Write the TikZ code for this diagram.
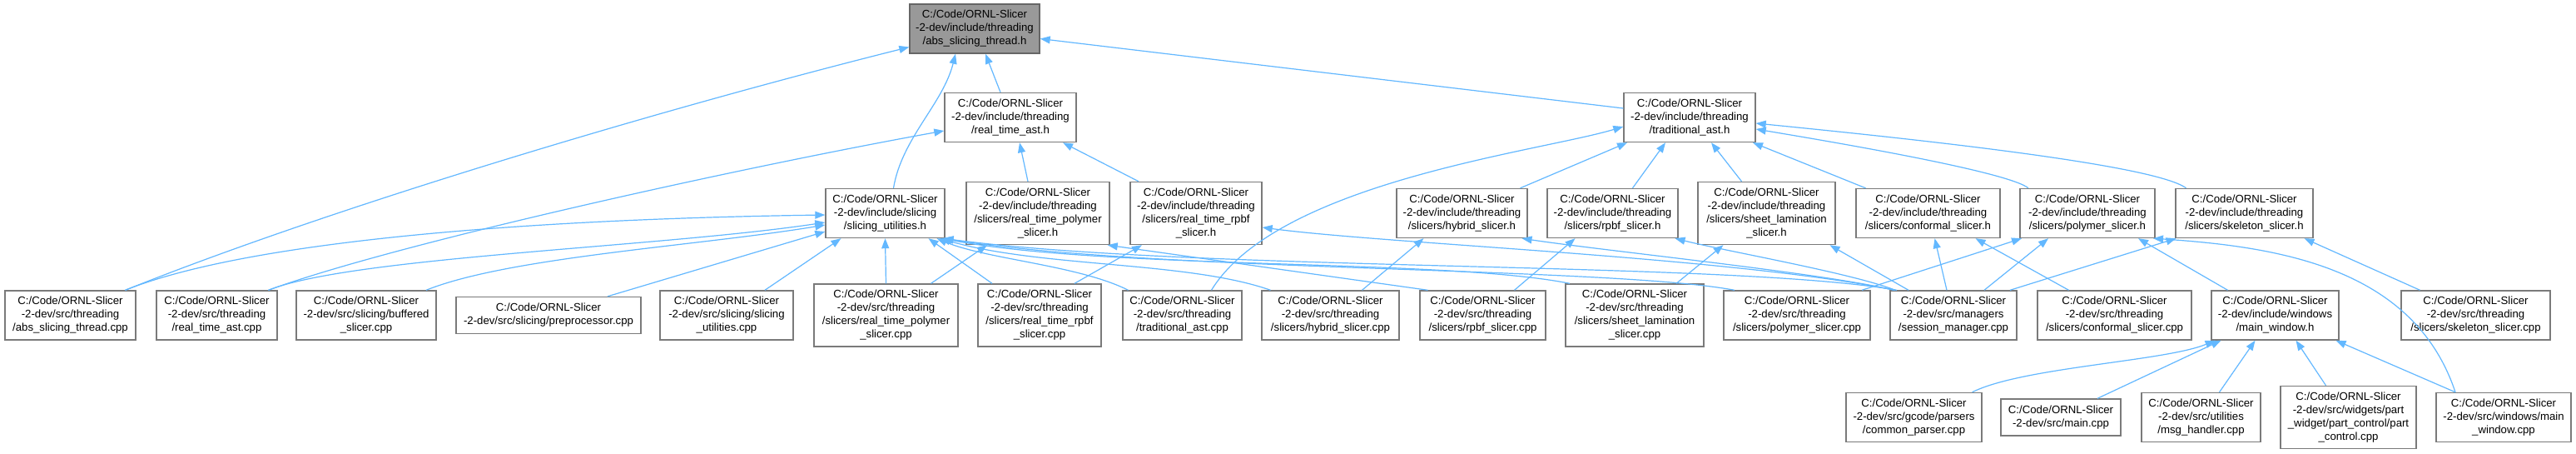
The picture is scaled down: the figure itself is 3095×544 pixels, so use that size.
\documentclass[tikz,border=0pt]{standalone}
\usepackage{fontspec}
\setmainfont{Liberation Sans}
\usetikzlibrary{arrows.meta}
\definecolor{edgeblue}{HTML}{63B8FF}
\definecolor{nodeborder}{HTML}{7A7A7A}
\definecolor{rootfill}{HTML}{999999}
\begin{document}
\begin{tikzpicture}[x=1pt,y=-1pt,
  hdr/.style={draw=nodeborder, fill=white, line width=1.4pt, inner sep=0pt, align=center,
              font=\fontsize{13.2}{16}\selectfont},
  dep/.style={draw=edgeblue, line width=1.2pt, -{Triangle[length=12pt,width=9pt]}}]
\useasboundingbox (0,0) rectangle (3095,544);
\fill[white] (0,0) rectangle (3095,544);

% row 0
\node[hdr, fill=rootfill, draw=gray!80!black, minimum width=156, minimum height=59] (A) at (1171,34.5) {C:/Code/ORNL-Slicer\\-2-dev/include/threading\\/abs\_slicing\_thread.h};
% row 1
\node[hdr, minimum width=158, minimum height=59] (RTA) at (1214,141) {C:/Code/ORNL-Slicer\\-2-dev/include/threading\\/real\_time\_ast.h};
\node[hdr, minimum width=158, minimum height=59] (TA) at (2030,141) {C:/Code/ORNL-Slicer\\-2-dev/include/threading\\/traditional\_ast.h};
% row 2
\node[hdr, minimum width=143, minimum height=59] (SU) at (1063.5,256) {C:/Code/ORNL-Slicer\\-2-dev/include/slicing\\/slicing\_utilities.h};
\node[hdr, minimum width=172, minimum height=75] (RTPh) at (1247,256) {C:/Code/ORNL-Slicer\\-2-dev/include/threading\\/slicers/real\_time\_polymer\\\_slicer.h};
\node[hdr, minimum width=158, minimum height=75] (RTRh) at (1437,256) {C:/Code/ORNL-Slicer\\-2-dev/include/threading\\/slicers/real\_time\_rpbf\\\_slicer.h};
\node[hdr, minimum width=157, minimum height=59] (HYh) at (1756.5,256) {C:/Code/ORNL-Slicer\\-2-dev/include/threading\\/slicers/hybrid\_slicer.h};
\node[hdr, minimum width=157, minimum height=59] (RPh) at (1937.5,256) {C:/Code/ORNL-Slicer\\-2-dev/include/threading\\/slicers/rpbf\_slicer.h};
\node[hdr, minimum width=165, minimum height=75] (SLh) at (2122.5,256) {C:/Code/ORNL-Slicer\\-2-dev/include/threading\\/slicers/sheet\_lamination\\\_slicer.h};
\node[hdr, minimum width=173, minimum height=59] (COh) at (2316.5,256) {C:/Code/ORNL-Slicer\\-2-dev/include/threading\\/slicers/conformal\_slicer.h};
\node[hdr, minimum width=162, minimum height=59] (POh) at (2508,256) {C:/Code/ORNL-Slicer\\-2-dev/include/threading\\/slicers/polymer\_slicer.h};
\node[hdr, minimum width=165, minimum height=59] (SKh) at (2696.5,256) {C:/Code/ORNL-Slicer\\-2-dev/include/threading\\/slicers/skeleton\_slicer.h};
% row 3
\node[hdr, minimum width=157, minimum height=59] (ASTc) at (84.5,378.5) {C:/Code/ORNL-Slicer\\-2-dev/src/threading\\/abs\_slicing\_thread.cpp};
\node[hdr, minimum width=145, minimum height=59] (RTAc) at (260.5,378.5) {C:/Code/ORNL-Slicer\\-2-dev/src/threading\\/real\_time\_ast.cpp};
\node[hdr, minimum width=168, minimum height=59] (BUc) at (440,378.5) {C:/Code/ORNL-Slicer\\-2-dev/src/slicing/buffered\\\_slicer.cpp};
\node[hdr, minimum width=222, minimum height=44] (PPc) at (659,378.5) {C:/Code/ORNL-Slicer\\-2-dev/src/slicing/preprocessor.cpp};
\node[hdr, minimum width=160, minimum height=59] (SUc) at (873,378.5) {C:/Code/ORNL-Slicer\\-2-dev/src/slicing/slicing\\\_utilities.cpp};
\node[hdr, minimum width=173, minimum height=75] (RTPc) at (1064.5,378.5) {C:/Code/ORNL-Slicer\\-2-dev/src/threading\\/slicers/real\_time\_polymer\\\_slicer.cpp};
\node[hdr, minimum width=148, minimum height=75] (RTRc) at (1249,378.5) {C:/Code/ORNL-Slicer\\-2-dev/src/threading\\/slicers/real\_time\_rpbf\\\_slicer.cpp};
\node[hdr, minimum width=143, minimum height=59] (TAc) at (1420.5,378.5) {C:/Code/ORNL-Slicer\\-2-dev/src/threading\\/traditional\_ast.cpp};
\node[hdr, minimum width=165, minimum height=59] (HYc) at (1598.5,378.5) {C:/Code/ORNL-Slicer\\-2-dev/src/threading\\/slicers/hybrid\_slicer.cpp};
\node[hdr, minimum width=151, minimum height=59] (RPc) at (1781.5,378.5) {C:/Code/ORNL-Slicer\\-2-dev/src/threading\\/slicers/rpbf\_slicer.cpp};
\node[hdr, minimum width=166, minimum height=75] (SLc) at (1964,378.5) {C:/Code/ORNL-Slicer\\-2-dev/src/threading\\/slicers/sheet\_lamination\\\_slicer.cpp};
\node[hdr, minimum width=176, minimum height=59] (POc) at (2159,378.5) {C:/Code/ORNL-Slicer\\-2-dev/src/threading\\/slicers/polymer\_slicer.cpp};
\node[hdr, minimum width=152, minimum height=59] (SMc) at (2347,378.5) {C:/Code/ORNL-Slicer\\-2-dev/src/managers\\/session\_manager.cpp};
\node[hdr, minimum width=185, minimum height=59] (COc) at (2540.5,378.5) {C:/Code/ORNL-Slicer\\-2-dev/src/threading\\/slicers/conformal\_slicer.cpp};
\node[hdr, minimum width=153, minimum height=59] (MWh) at (2733.5,378.5) {C:/Code/ORNL-Slicer\\-2-dev/include/windows\\/main\_window.h};
\node[hdr, minimum width=179, minimum height=59] (SKc) at (2974.5,378.5) {C:/Code/ORNL-Slicer\\-2-dev/src/threading\\/slicers/skeleton\_slicer.cpp};
% row 4
\node[hdr, minimum width=163, minimum height=59] (CPc) at (2299.5,501) {C:/Code/ORNL-Slicer\\-2-dev/src/gcode/parsers\\/common\_parser.cpp};
\node[hdr, minimum width=144, minimum height=44] (MAc) at (2476,501) {C:/Code/ORNL-Slicer\\-2-dev/src/main.cpp};
\node[hdr, minimum width=143, minimum height=59] (MHc) at (2644.5,501) {C:/Code/ORNL-Slicer\\-2-dev/src/utilities\\/msg\_handler.cpp};
\node[hdr, minimum width=163, minimum height=75] (PCc) at (2821.5,501) {C:/Code/ORNL-Slicer\\-2-dev/src/widgets/part\\\_widget/part\_control/part\\\_control.cpp};
\node[hdr, minimum width=162, minimum height=59] (MWc) at (3008,501) {C:/Code/ORNL-Slicer\\-2-dev/src/windows/main\\\_window.cpp};

% edges into abs_slicing_thread.h
\draw[dep] ([xshift=66]ASTc.north) .. controls +(250,-100) and +(-300,75) .. ([yshift=-22]A.west);
\draw[dep] ([xshift=10]SU.north) .. controls +(10,-60) and +(-15,60) .. ([xshift=-23]A.south);
\draw[dep] ([xshift=-12]RTA.north) -- ([xshift=13]A.south);
\draw[dep] ([yshift=11]TA.west) -- ([yshift=-12]A.east);
% edges into real_time_ast.h
\draw[dep] ([xshift=62]RTAc.north) .. controls +(150,-55) and +(-250,45) .. ([yshift=-16]RTA.west);
\draw[dep] ([xshift=-12]RTPh.north) -- ([xshift=11]RTA.south);
\draw[dep] ([xshift=-69]RTRh.north) -- ([xshift=63]RTA.south);
% edges into traditional_ast.h
\draw[dep] ([xshift=35]TAc.north) .. controls +(80,-130) and +(-100,30) .. ([yshift=-11]TA.west);
\draw[dep] ([xshift=70]HYh.north) -- ([xshift=-75]TA.south);
\draw[dep] ([xshift=24]RPh.north) -- ([xshift=-29]TA.south);
\draw[dep] ([xshift=-30]SLh.north) -- ([xshift=26]TA.south);
\draw[dep] ([xshift=-75]COh.north) -- ([xshift=76]TA.south);
\draw[dep] ([xshift=-71]POh.north) .. controls +(-25,-20) and +(90,15) .. ([yshift=-14]TA.east);
\draw[dep] ([xshift=-70]SKh.north) .. controls +(-40,-30) and +(150,15) .. ([yshift=-7]TA.east);
% edges into slicing_utilities.h
\draw[dep] ([xshift=66]ASTc.north) .. controls +(150,-60) and +(-350,5) .. ([yshift=-2]SU.west);
\draw[dep] ([xshift=62]RTAc.north) .. controls +(100,-40) and +(-200,30) .. ([yshift=-11]SU.west);
\draw[dep] ([xshift=72]BUc.north) .. controls +(100,-40) and +(-150,25) .. ([yshift=-14]SU.west);
\draw[dep] ([xshift=71]PPc.north) -- ([yshift=-22]SU.west);
\draw[dep] ([xshift=46]SUc.north) -- ([xshift=-53]SU.south);
\draw[dep] (RTPc.north) -- (SU.south);
\draw[dep] ([xshift=-57]RTRc.north) -- ([xshift=52]SU.south);
\draw[dep] ([xshift=-65]TAc.north) .. controls +(-60,-30) and +(60,25) .. ([xshift=62]SU.south);
\draw[dep] ([xshift=-72]HYc.north) .. controls +(-100,-35) and +(120,35) .. ([xshift=66]SU.south);
\draw[dep] ([xshift=-78]SLc.north) .. controls +(-150,-30) and +(200,38) .. ([xshift=68]SU.south);
\draw[dep] ([xshift=-75]POc.north) .. controls +(-150,-28) and +(250,40) .. ([xshift=70]SU.south);
\draw[dep] ([xshift=-68]SMc.north) .. controls +(-200,-35) and +(300,40) .. ([xshift=70]SU.south);
% slicer headers
\draw[dep] ([xshift=54]RTPc.north) -- ([xshift=-61]RTPh.south);
\draw[dep] ([xshift=-66]RPc.north) -- ([xshift=-3]RTPh.south east);
\draw[dep] ([xshift=42]RTRc.north) -- ([xshift=-65]RTRh.south);
\draw[dep] ([xshift=-70]SMc.north) .. controls +(-200,-40) and +(150,20) .. ([yshift=-17]RTRh.east);
\draw[dep] ([xshift=38]HYc.north) -- ([xshift=-46]HYh.south);
\draw[dep] ([xshift=-72]SMc.north) .. controls +(-80,-20) and +(100,15) .. ([xshift=72]HYh.south);
\draw[dep] ([xshift=38]RPc.north) -- ([xshift=-45]RPh.south);
\draw[dep] ([xshift=-70]SMc.north) .. controls +(-50,-20) and +(60,15) .. ([xshift=75]RPh.south);
\draw[dep] ([xshift=50]SLc.north) -- ([xshift=-52]SLh.south);
\draw[dep] ([xshift=-54]SMc.north) -- ([xshift=76]SLh.south);
\draw[dep] ([xshift=-8]SMc.north) -- ([xshift=8]COh.south);
\draw[dep] ([xshift=-55]COc.north) -- ([xshift=57]COh.south);
\draw[dep] ([xshift=78]POc.north) -- ([xshift=-79]POh.south);
\draw[dep] ([xshift=37]SMc.north) -- ([xshift=-47]POh.south);
\draw[dep] ([xshift=-57]MWh.north) -- ([xshift=61]POh.south);
\draw[dep] ([xshift=-58]MWc.north) .. controls +(-50,-150) and +(150,10) .. ([xshift=79]POh.south);
\draw[dep] ([xshift=68]SMc.north) -- ([xshift=-82]SKh.south);
\draw[dep] ([xshift=-67]SKc.north) -- ([xshift=72]SKh.south);
% main_window.h
\draw[dep] ([xshift=70]CPc.north) .. controls +(60,-30) and +(-60,25) .. ([xshift=-72]MWh.south);
\draw[dep] ([xshift=44]MAc.north) -- ([xshift=-65]MWh.south);
\draw[dep] ([xshift=22]MHc.north) -- ([xshift=-24]MWh.south);
\draw[dep] ([xshift=-27]PCc.north) -- ([xshift=25]MWh.south);
\draw[dep] ([xshift=-58]MWc.north) -- ([xshift=73]MWh.south);
\end{tikzpicture}
\end{document}
